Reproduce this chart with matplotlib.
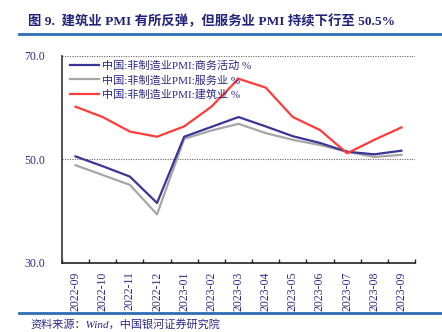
import matplotlib
matplotlib.use("Agg")
import matplotlib.pyplot as plt
from matplotlib.lines import Line2D

months = ["2022-09", "2022-10", "2022-11", "2022-12", "2023-01", "2023-02", "2023-03",
          "2023-04", "2023-05", "2023-06", "2023-07", "2023-08", "2023-09"]
business = [50.6, 48.7, 46.7, 41.6, 54.4, 56.3, 58.2, 56.4, 54.5, 53.2, 51.5, 51.0, 51.7]
services = [48.9, 47.0, 45.1, 39.4, 54.0, 55.6, 56.9, 55.1, 53.8, 52.8, 51.5, 50.5, 50.9]
construction = [60.2, 58.2, 55.4, 54.4, 56.4, 60.2, 65.6, 63.9, 58.2, 55.7, 51.2, 53.8, 56.2]
labels = ["中国:非制造业PMI:商务活动 %", "中国:非制造业PMI:服务业 %", "中国:非制造业PMI:建筑业 %"]
yticks = [30.0, 50.0, 70.0]

TXT = "#2E2A86"
FAM = ["Liberation Serif", "Noto Sans CJK SC"]
plt.rcParams['font.family'] = FAM

fig = plt.figure(figsize=(4.42, 3.32), dpi=100)
ax = fig.add_axes([62/442, 1-263/332, (415-62)/442, (263-56)/332])

x = list(range(len(months)))
ax.plot(x, services, color="#A6A6A6", lw=1.6, label=labels[1], zorder=3)
ax.plot(x, business, color="#3B3598", lw=1.6, label=labels[0], zorder=4)
ax.plot(x, construction, color="#FF3B3B", lw=1.6, label=labels[2], zorder=5)

ax.set_xlim(-0.5, len(months)-0.5)
ax.set_ylim(30, 70)
ax.set_yticks(yticks)
ax.set_yticklabels([f"{v:.1f}" for v in yticks], color=TXT, fontsize=8.5)
ax.tick_params(axis='y', length=0, pad=12)
for v in [50, 70]:
    ax.axhline(v, color="#666666", lw=0.8, ls=(0, (1, 1.2)), zorder=1)

ax.set_xticks(x)
ax.set_xticklabels(months, rotation=90, color=TXT, fontsize=8.5)
ax.tick_params(axis='x', which='major', length=0, pad=6)
ax.set_xticks([i + 0.5 for i in range(-1, len(months))], minor=True)
ax.tick_params(axis='x', which='minor', direction='in', length=3, width=1, color="#222222")

for s in ['top', 'right']:
    ax.spines[s].set_visible(False)
ax.spines['left'].set_color("#333333")
ax.spines['left'].set_linewidth(1.2)
ax.spines['bottom'].set_color("#222222")
ax.spines['bottom'].set_linewidth(1.2)

handles = [Line2D([], [], color="#3B3598", lw=1.6),
           Line2D([], [], color="#A6A6A6", lw=1.6),
           Line2D([], [], color="#FF3B3B", lw=1.6)]
leg = ax.legend(handles, labels, loc='upper left', frameon=False,
                handlelength=2.6, handletextpad=0.3, labelspacing=0.35,
                bbox_to_anchor=(0.0, 1.015), borderaxespad=0.3,
                prop={'family': FAM, 'size': 8})
for t in leg.get_texts():
    t.set_color(TXT)

fig.text(28/442, 1-21/332, "图 9.  建筑业 PMI 有所反弹，但服务业 PMI 持续下行至 50.5%",
         fontsize=9.6, fontweight='bold', color="#23237A", va='center', ha='left')
fig.add_artist(Line2D([19/442, 1], [1-34/332, 1-34/332], color="#2E6DB4", lw=2))
fig.add_artist(Line2D([19/442, 1], [1-313/332, 1-313/332], color="#2E6DB4", lw=2))
fig.text(30/442, 1-324/332, "资料来源：Wind，中国银河证券研究院", fontsize=8, style='italic',
         color=TXT, va='center', ha='left')

fig.savefig("out.png", dpi=100)
